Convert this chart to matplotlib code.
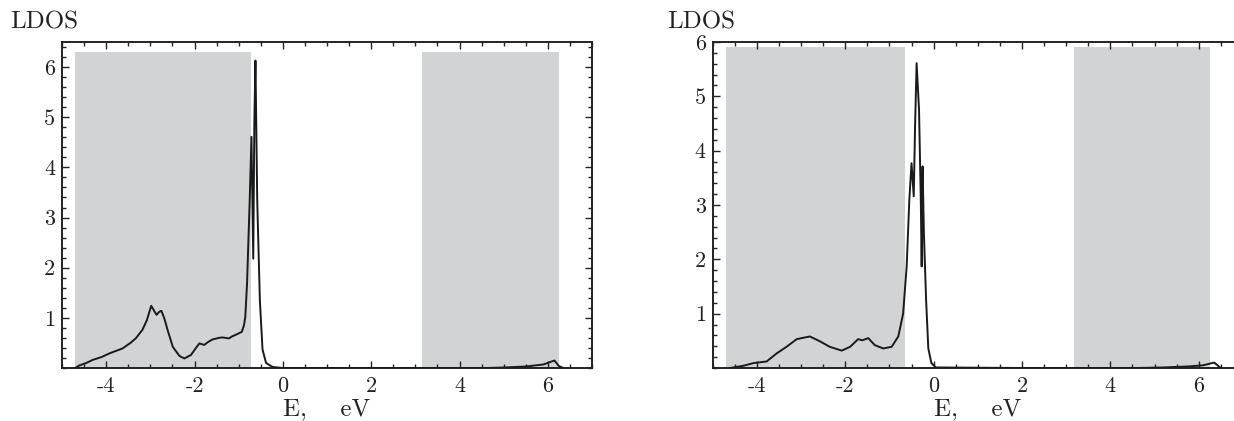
import matplotlib
matplotlib.use("Agg")
import matplotlib.pyplot as plt
from matplotlib.ticker import MultipleLocator, FixedLocator

plt.rcParams['font.family'] = ['cmr10', 'DejaVu Serif']
plt.rcParams['mathtext.fontset'] = 'cm'
plt.rcParams['axes.unicode_minus'] = False
plt.rcParams['axes.formatter.use_mathtext'] = False

# ---------------- data ----------------
# Panel 1: LDOS vs energy
E1 = [-4.70, -4.61, -4.45, -4.31, -4.10, -3.93, -3.63, -3.45, -3.33, -3.18, -3.08,
      -2.98, -2.92, -2.86, -2.80, -2.75, -2.68, -2.61, -2.49, -2.34, -2.23, -2.08,
      -1.95, -1.89, -1.78, -1.69, -1.59, -1.45, -1.37, -1.22, -1.15, -1.07, -0.93,
      -0.88, -0.85, -0.81, -0.75, -0.71, -0.67, -0.645, -0.62, -0.58, -0.52, -0.46,
      -0.38, -0.23, 0.0, 2.0, 4.0, 4.6, 5.0, 5.5, 5.9, 6.15, 6.25, 6.35]
L1 = [0.00, 0.05, 0.10, 0.16, 0.22, 0.29, 0.39, 0.50, 0.59, 0.76, 0.95,
      1.24, 1.15, 1.06, 1.12, 1.14, 0.98, 0.76, 0.42, 0.24, 0.19, 0.26,
      0.42, 0.49, 0.46, 0.52, 0.57, 0.60, 0.61, 0.59, 0.63, 0.66, 0.72,
      0.85, 1.02, 1.69, 3.35, 4.61, 2.18, 4.90, 6.13, 3.35, 1.35, 0.37,
      0.10, 0.02, 0.00, 0.00, 0.00, 0.00, 0.01, 0.03, 0.07, 0.15, 0.04, 0.00]

# Panel 2: LDOS vs energy
E2 = [-4.61, -4.31, -4.08, -3.78, -3.55, -3.33, -3.10, -2.99, -2.80, -2.57, -2.35,
      -2.08, -1.89, -1.71, -1.61, -1.48, -1.33, -1.14, -0.95, -0.80, -0.69, -0.61,
      -0.55, -0.50, -0.45, -0.42, -0.385, -0.33, -0.29, -0.27, -0.25, -0.22, -0.17,
      -0.12, -0.05, 0.05, 2.0, 4.0, 4.6, 5.2, 5.8, 6.1, 6.35, 6.5]
L2 = [0.00, 0.04, 0.09, 0.12, 0.27, 0.39, 0.53, 0.55, 0.58, 0.49, 0.39,
      0.32, 0.39, 0.53, 0.51, 0.55, 0.42, 0.36, 0.39, 0.58, 1.00, 1.87,
      3.09, 3.77, 3.16, 4.44, 5.61, 4.75, 3.09, 1.87, 3.71, 2.48, 1.25,
      0.36, 0.09, 0.01, 0.00, 0.00, 0.00, 0.01, 0.03, 0.05, 0.10, 0.00]

# shaded band regions (E_min, E_max) and top level
bands1 = [(-4.70, -0.72), (3.15, 6.25)]
band_top1 = 6.3
bands2 = [(-4.70, -0.64), (3.17, 6.26)]
band_top2 = 5.9

xlim = (-5, 7)
ylim1 = (0, 6.5)
ylim2 = (0, 6)
yticks = [1, 2, 3, 4, 5, 6]
xticks = [-4, -2, 0, 2, 4, 6]

shade = '#d2d3d5'

W, H = 1234, 421
fig = plt.figure(figsize=(W / 100, H / 100), dpi=100)

ax1 = fig.add_axes([62 / W, 53 / H, 530 / W, 326 / H])
ax2 = fig.add_axes([712.7 / W, 53 / H, 530.2 / W, 326 / H])


def style(ax, E, L, bands, top, ylim):
    for lo, hi in bands:
        ax.fill_between([lo, hi], [ylim[0]] * 2, [top] * 2, color=shade, lw=0, zorder=0)
    ax.plot(E, L, color='#1a1a1a', lw=1.4, zorder=3)
    ax.set_xlim(*xlim)
    ax.set_ylim(*ylim)
    ax.xaxis.set_major_locator(FixedLocator(xticks))
    ax.yaxis.set_major_locator(FixedLocator(yticks))
    ax.xaxis.set_minor_locator(MultipleLocator(0.5))
    ax.yaxis.set_minor_locator(MultipleLocator(0.2))
    ax.tick_params(which='both', direction='in', top=True, right=True,
                   labelsize=16, width=1.0, color='#222222', labelcolor='#222222')
    ax.tick_params(which='major', length=5)
    ax.tick_params(which='minor', length=3)
    ax.tick_params(axis='x', which='major', pad=6)
    ax.tick_params(axis='y', which='major', pad=5)
    for s in ax.spines.values():
        s.set_linewidth(1.4)
        s.set_color('#222222')
    ax.set_xlabel('E,    eV', fontsize=18, labelpad=2, color='#222222')


style(ax1, E1, L1, bands1, band_top1, ylim1)
style(ax2, E2, L2, bands2, band_top2, ylim2)

fig.text(10 / W, 1 - 22 / H, 'LDOS', fontsize=18, va='center', ha='left', color='#222222')
fig.text(667 / W, 1 - 22 / H, 'LDOS', fontsize=18, va='center', ha='left', color='#222222')

fig.savefig('out.png', dpi=100)
